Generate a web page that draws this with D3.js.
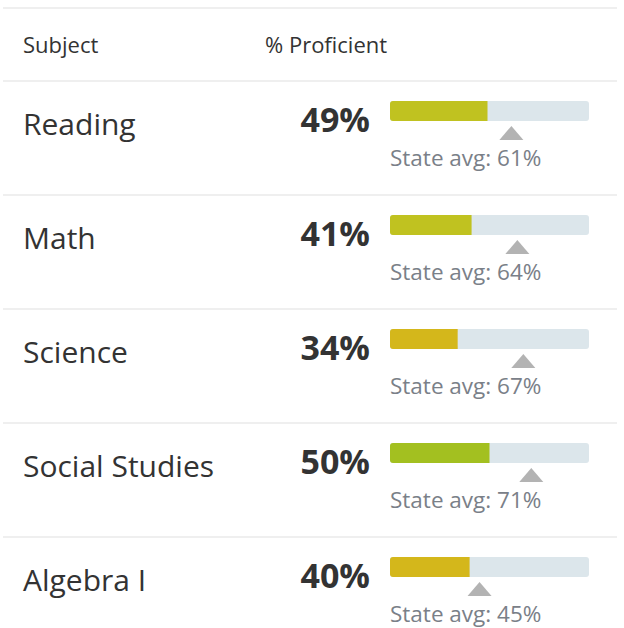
<!DOCTYPE html>
<html><head><meta charset="utf-8">
<script src="https://cdn.jsdelivr.net/npm/d3@7"></script>
<style>html,body{margin:0;padding:0;background:#fff;}svg{display:block;}</style>
</head><body>
<script>
const subjects = ["Reading", "Math", "Science", "Social Studies", "Algebra I"];
const proficient = [49, 41, 34, 50, 40];
const stateAvg = [61, 64, 67, 71, 45];
const barColors = ["#c0c220", "#c0c220", "#d4b71b", "#a3c020", "#d4b71b"];
const headers = ["Subject", "% Proficient"];

const W = 624, H = 628;
const svg = d3.select("body").append("svg").attr("width", W).attr("height", H);
const font = "'Open Sans', sans-serif";

const y = d3.scaleBand().domain(subjects).range([81, 81 + 114 * subjects.length]);
const x = d3.scaleLinear().domain([0, 100]).range([390, 589]);

svg.append("rect").attr("x", 3).attr("y", 7).attr("width", 614).attr("height", 2).attr("fill", "#efefef");
svg.append("rect").attr("x", 3).attr("y", 80).attr("width", 614).attr("height", 2).attr("fill", "#efefef");

svg.append("text").attr("x", 23).attr("y", 53).text(headers[0])
  .attr("font-family", font).attr("font-size", 22).attr("fill", "#333");
svg.append("text").attr("x", 265).attr("y", 53).text(headers[1])
  .attr("font-family", font).attr("font-size", 22).attr("fill", "#333");

const rows = svg.selectAll("g.row").data(subjects.map((s, i) => ({s, p: proficient[i], a: stateAvg[i], c: barColors[i], i})))
  .enter().append("g").attr("class", "row").attr("transform", d => `translate(0,${y(d.s)})`);

rows.filter(d => d.i < subjects.length - 1).append("rect")
  .attr("x", 3).attr("y", 113).attr("width", 614).attr("height", 2).attr("fill", "#efefef");

rows.append("text").attr("x", 23).attr("y", 54).text(d => d.s)
  .attr("font-family", font).attr("font-size", 30).attr("fill", "#333");

rows.append("text").attr("x", 370).attr("y", 51).attr("text-anchor", "end").text(d => d.p + "%")
  .attr("font-family", font).attr("font-size", 34).attr("font-weight", 700).attr("fill", "#333");

rows.append("rect").attr("x", x(0)).attr("y", 20).attr("width", x(100) - x(0)).attr("height", 20)
  .attr("rx", 3).attr("fill", "#dce6eb");
rows.append("path").attr("fill", d => d.c).attr("d", d => {
  const x0 = x(0), x1 = x(d.p), t = 20, b = 40, r = 3;
  return `M${x0 + r},${t} H${x1} V${b} H${x0 + r} Q${x0},${b} ${x0},${b - r} V${t + r} Q${x0},${t} ${x0 + r},${t} Z`;
});

rows.append("path").attr("fill", "#b3b3b3").attr("d", d => {
  const cx = x(d.a);
  return `M${cx},45 L${cx + 12},59 L${cx - 12},59 Z`;
});

rows.append("text").attr("x", 390).attr("y", 85).text(d => `State avg: ${d.a}%`)
  .attr("font-family", font).attr("font-size", 22.5).attr("fill", "#7a8088");
</script>
</body></html>
